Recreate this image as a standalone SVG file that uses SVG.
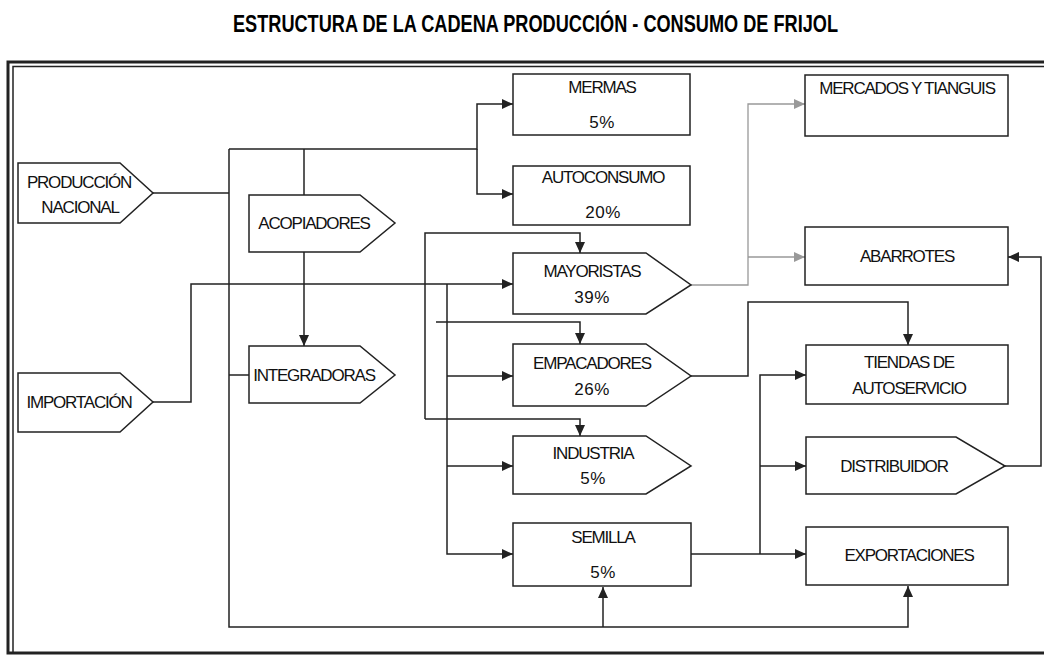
<svg xmlns="http://www.w3.org/2000/svg" width="1044" height="655" viewBox="0 0 1044 655">
<style>
.n{fill:#fff;stroke:#222;stroke-width:1.5}
.t{font-family:"Liberation Sans",Arial,sans-serif;font-size:17px;letter-spacing:-1.2px;fill:#111;text-anchor:middle}
.p{letter-spacing:0.5px}
.c{fill:none;stroke:#222;stroke-width:1.5}
.g{fill:none;stroke:#999;stroke-width:1.3}
.f{fill:none;stroke:#222}
</style>
<defs>
<marker id="a" markerUnits="userSpaceOnUse" markerWidth="11" markerHeight="10" refX="11" refY="5" orient="auto"><path d="M0,0 L11,5 L0,10 z" fill="#222"/></marker>
<marker id="ag" markerUnits="userSpaceOnUse" markerWidth="11" markerHeight="10" refX="11" refY="5" orient="auto"><path d="M0,0 L11,5 L0,10 z" fill="#999"/></marker>
</defs>
<rect width="1044" height="655" fill="#fff"/>
<text x="233" y="32" textLength="605" lengthAdjust="spacingAndGlyphs" style="font-family:'Liberation Sans',Arial,sans-serif;font-size:23px;font-weight:bold;fill:#000">ESTRUCTURA DE LA CADENA PRODUCCIÓN - CONSUMO DE FRIJOL</text>
<g id="frame">
<path class="f" stroke-width="3" d="M1050,62 H8 V653 H1050"/>
<path class="f" stroke-width="1.5" d="M1050,66.5 H13 V653"/>
</g>
<g id="connectors">
<path class="c" d="M153,193 H229"/>
<path class="c" d="M229,149 V627 H908 V586" marker-end="url(#a)"/>
<path class="c" d="M603,627 V587" marker-end="url(#a)"/>
<path class="c" d="M229,149 H477 V104 H513" marker-end="url(#a)"/>
<path class="c" d="M477,149 V194 H513" marker-end="url(#a)"/>
<path class="c" d="M304,149 V195"/>
<path class="c" d="M304,252 V346" marker-end="url(#a)"/>
<path class="c" d="M229,375 H249"/>
<path class="c" d="M153,402 H191 V284 H513" marker-end="url(#a)"/>
<path class="c" d="M425,419 V233 H580 V253" marker-end="url(#a)"/>
<path class="c" d="M425,419 H580 V436" marker-end="url(#a)"/>
<path class="c" d="M447,284 V554 H513" marker-end="url(#a)"/>
<path class="c" d="M447,376 H513" marker-end="url(#a)"/>
<path class="c" d="M447,466 H513" marker-end="url(#a)"/>
<path class="c" d="M436,322 H580 V344" marker-end="url(#a)"/>
<path class="c" d="M691,554 H806" marker-end="url(#a)"/>
<path class="c" d="M760,554 V375 H806" marker-end="url(#a)"/>
<path class="c" d="M760,466 H806" marker-end="url(#a)"/>
<path class="c" d="M691,376 H748 V302 H908 V345" marker-end="url(#a)"/>
<path class="c" d="M1005,466 H1041 V257 H1008" marker-end="url(#a)"/>
<path class="g" d="M691,285 H748 V104 H805" marker-end="url(#ag)"/>
<path class="g" d="M748,257 H805" marker-end="url(#ag)"/>
</g>
<g id="produccion"><polygon class="n" points="18,163 120,163 153,193 120,223 18,223"/><text class="t" x="79" y="188">PRODUCCIÓN</text><text class="t" x="80" y="213">NACIONAL</text></g>
<g id="importacion"><polygon class="n" points="18,373 120,373 153,402 120,432 18,432"/><text class="t" x="79" y="408">IMPORTACIÓN</text></g>
<g id="acopiadores"><polygon class="n" points="249,195 360,195 395,223 360,252 249,252"/><text class="t" x="314" y="229">ACOPIADORES</text></g>
<g id="integradoras"><polygon class="n" points="249,346 360,346 395,375 360,403 249,403"/><text class="t" x="314" y="381">INTEGRADORAS</text></g>
<g id="mermas"><rect class="n" x="513" y="74" width="177" height="61"/><text class="t" x="602" y="93">MERMAS</text><text class="t p" x="602" y="128">5%</text></g>
<g id="autoconsumo"><rect class="n" x="513" y="166" width="177" height="59"/><text class="t" x="603" y="183">AUTOCONSUMO</text><text class="t p" x="603" y="218">20%</text></g>
<g id="mayoristas"><polygon class="n" points="513,253 646,253 691,285 646,314 513,314"/><text class="t" x="592" y="277">MAYORISTAS</text><text class="t p" x="592" y="303">39%</text></g>
<g id="empacadores"><polygon class="n" points="513,344 646,344 691,376 646,406 513,406"/><text class="t" x="592" y="369">EMPACADORES</text><text class="t p" x="592" y="395">26%</text></g>
<g id="industria"><polygon class="n" points="513,436 646,436 691,466 646,494 513,494"/><text class="t" x="593" y="459">INDUSTRIA</text><text class="t p" x="593" y="484">5%</text></g>
<g id="semilla"><rect class="n" x="513" y="523" width="178" height="63"/><text class="t" x="603" y="543">SEMILLA</text><text class="t p" x="603" y="578">5%</text></g>
<g id="mercados"><rect class="n" x="805" y="75" width="203" height="61"/><text class="t" x="907" y="94">MERCADOS Y TIANGUIS</text></g>
<g id="abarrotes"><rect class="n" x="805" y="227" width="203" height="58"/><text class="t" x="907" y="262">ABARROTES</text></g>
<g id="tiendas"><rect class="n" x="806" y="345" width="202" height="59"/><text class="t" x="909" y="368">TIENDAS DE</text><text class="t" x="909" y="394">AUTOSERVICIO</text></g>
<g id="distribuidor"><polygon class="n" points="806,437 956,437 1005,466 956,494 806,494"/><text class="t" x="894" y="472">DISTRIBUIDOR</text></g>
<g id="exportaciones"><rect class="n" x="806" y="527" width="202" height="58"/><text class="t" x="909" y="561">EXPORTACIONES</text></g>
</svg>
